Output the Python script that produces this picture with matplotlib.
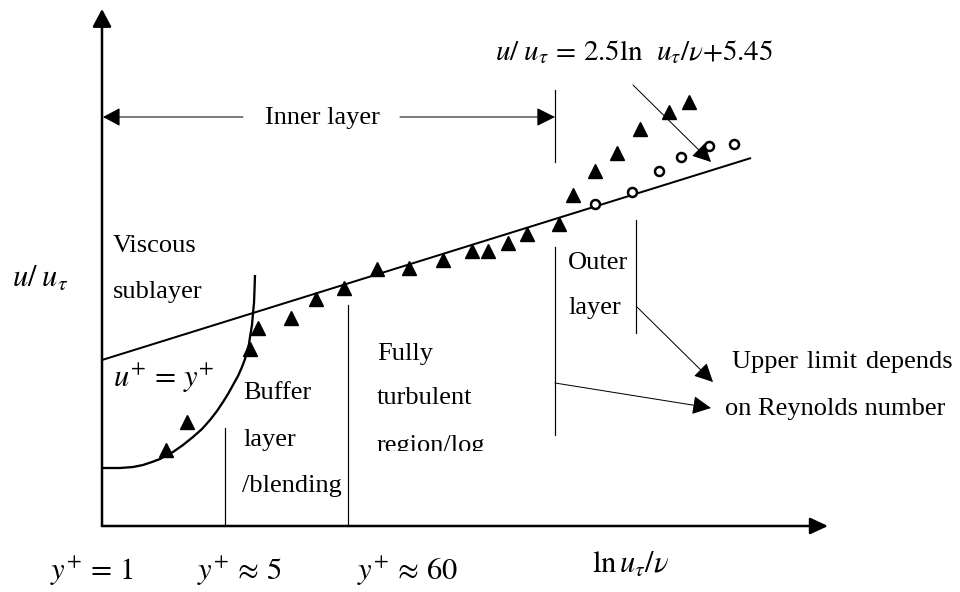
import matplotlib
matplotlib.use("Agg")
import matplotlib.pyplot as plt
from matplotlib.patches import Rectangle

plt.rcParams['font.family'] = ['Liberation Serif', 'DejaVu Serif']
plt.rcParams['mathtext.fontset'] = 'stix'

# ---- schematic data (figure pixel frame, y downward) ----
# measured triangle data points
tri_x = [166, 187, 250, 258, 291, 316, 344, 377, 409, 443, 472, 488, 508, 527, 559,
         573, 595, 617, 640, 669, 689]
tri_y = [450, 422, 349, 328, 318, 299, 288, 269, 268, 260, 251, 251, 243, 234, 224,
         195, 171, 153, 129, 112, 102]
# measured circle data points
circ_x = [595, 632, 659, 681, 709, 734]
circ_y = [204, 192, 171, 157, 146, 144]
# viscous sublayer curve u+ = y+
curve_x = [102, 120, 133, 143, 152, 160, 167, 173, 183, 193, 202, 210, 217, 223, 228,
           233, 238, 242, 245, 247, 249, 250, 252, 253, 254, 254.5, 255]
curve_y = [468, 468, 467, 465, 462, 459, 455, 452, 445, 437, 429, 420, 411, 402, 394,
           385, 376, 367, 359, 351, 344, 337, 325, 313, 303, 290, 275]
# log-law line endpoints
log_x = [102, 751]
log_y = [360, 158]
# axes
origin = (102, 526)
yaxis_top = 9
xaxis_end = 828
# region dividers (x, y_top, y_bottom)
dividers = [(225, 428, 526), (348, 305, 526), (555, 90, 162), (555, 247, 435), (636, 220, 333)]

W, H = 960, 592
fig = plt.figure(figsize=(W / 100, H / 100), dpi=100)
ax = fig.add_axes([0, 0, 1, 1])
ax.set_xlim(0, W)
ax.set_ylim(H, 0)
ax.axis('off')

FS = 19
MFS = 22
px = 0.72  # points per pixel

def arrow(x0, y0, x1, y1, lw=1.0, hl=15, hw=7.5):
    ax.annotate('', xy=(x1, y1), xytext=(x0, y0),
                arrowprops=dict(arrowstyle='-|>,head_length=%g,head_width=%g' % (hl * px / 10, hw * px / 10),
                                mutation_scale=10, lw=lw * px, color='black',
                                shrinkA=0, shrinkB=0))

# axes with arrows
arrow(origin[0], origin[1], origin[0], yaxis_top, lw=2.5, hl=15, hw=8)
arrow(origin[0], origin[1], xaxis_end, origin[1], lw=2.5, hl=15, hw=7)

# log line and curve
ax.plot(log_x, log_y, color='black', lw=2.0 * px, solid_capstyle='butt')
ax.plot(curve_x, curve_y, color='black', lw=2.3 * px, solid_capstyle='butt',
        solid_joinstyle='round')

# dividers
for x, y0, y1 in dividers:
    ax.plot([x, x], [y0, y1], color='black', lw=1.2 * px)

# markers
ax.plot(tri_x, tri_y, linestyle='none', marker='^', ms=13.5 * px, color='black')
ax.plot(circ_x, circ_y, linestyle='none', marker='o', ms=9 * px, mfc='white',
        mec='black', mew=2.5 * px)

# inner layer arrows
arrow(243, 117, 103, 117, lw=1.0, hl=15, hw=8)
arrow(400, 117, 555, 117, lw=1.0, hl=16, hw=8)
# equation arrow
arrow(633, 85, 711, 162, lw=1.0, hl=16, hw=8)
# outer layer arrows
arrow(637, 307, 713, 382, lw=1.0, hl=16, hw=8)
arrow(555, 383, 711, 408, lw=1.0, hl=16, hw=8)

def txt(x, y, s, **kw):
    return ax.text(x, y, s, fontsize=kw.pop('fontsize', FS), ha=kw.pop('ha', 'left'),
                   va='baseline', color='black', **kw)

txt(265, 124, 'Inner layer')
txt(113, 252, 'Viscous')
txt(113, 298, 'sublayer')
txt(12, 287, r'$u/\;u_\tau$', fontsize=MFS)
txt(113, 387, r'$u^{+}\,=\,y^{+}$', fontsize=MFS)
txt(243, 399, 'Buffer')
txt(243, 446, 'layer')
txt(242, 492, '/blending')
txt(377, 360, 'Fully')
txt(377, 404, 'turbulent')
t = txt(377, 452, 'region/log', clip_on=True)
t.set_clip_path(Rectangle((300, 0), 300, 451, transform=ax.transData))
txt(568, 269, 'Outer')
txt(568, 314, 'layer')
txt(732, 368, 'Upper\u200a limit\u200a depends')
txt(725, 415, 'on Reynolds number')
txt(495, 60, r'$u/\;u_\tau\,=\,\mathrm{2.5ln}\ \ u_\tau/\nu\mathrm{+5.45}$', fontsize=21)
txt(50, 580, r'$y^{+}\,=\,1$', fontsize=MFS)
txt(197, 580, r'$y^{+}\,\approx\,5$', fontsize=MFS)
txt(357, 580, r'$y^{+}\,\approx\,60$', fontsize=MFS)
txt(592, 573, r'$\mathrm{ln}\,u_\tau/\nu$', fontsize=MFS)

fig.savefig('out.png', dpi=100, facecolor='white')
